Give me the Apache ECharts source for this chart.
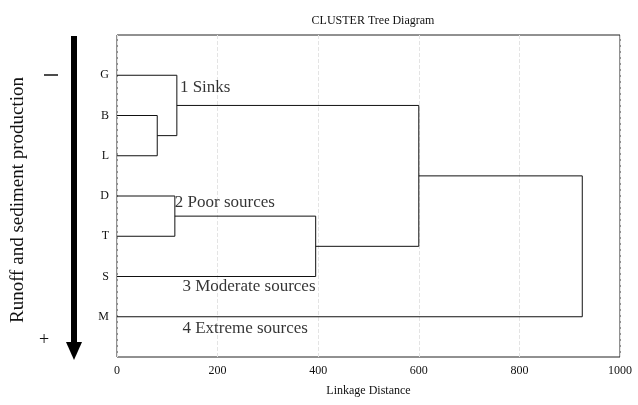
<!DOCTYPE html>
<html><head><meta charset="utf-8">
<script src="https://cdn.jsdelivr.net/npm/echarts@6/dist/echarts.min.js"></script>
<style>html,body{margin:0;background:#fff}#c{width:638px;height:405px}</style>
</head><body><div id="c"></div>
<script>
// leaves, top to bottom
const leaves = ['G', 'B', 'L', 'D', 'T', 'S', 'M'];
// merges: [left pos, right pos, left height, right height, distance]
// pos = leaf index (1-based) or merged midpoint; height = linkage distance the child starts at
const links = [
    [2, 3, 0, 0, 80],        // B + L
    [1, 2.5, 0, 80, 119],    // G + (B,L)
    [4, 5, 0, 0, 115],       // D + T
    [4.5, 6, 115, 0, 395],   // (D,T) + S
    [1.75, 5.25, 119, 395, 600],
    [3.5, 7, 600, 0, 925]    // + M
];
const groupLabels = [
    ['1 Sinks', 125, 1.3],
    ['2 Poor sources', 115, 4.15],
    ['3 Moderate sources', 130, 6.25],
    ['4 Extreme sources', 130, 7.3]
];

let segs = [];
links.forEach((l) => {
    segs.push([l[2], l[0]], [l[4], l[0]], [l[4], l[1]], [l[3], l[1]], [null, null]);
});

const serif = 'Liberation Serif';
const chart = echarts.init(document.getElementById('c'));
chart.setOption({
    animation: false,
    title: {text: 'CLUSTER Tree Diagram', left: 368, top: 10, textAlign: 'center',
        textStyle: {fontFamily: serif, fontSize: 12, fontWeight: 'normal', color: '#111'}},
    grid: {left: 117, right: 18, top: 35, bottom: 48, show: true, borderColor: '#222', borderWidth: 1},
    xAxis: {
        type: 'value', min: 0, max: 1000, interval: 200,
        name: 'Linkage Distance', nameLocation: 'middle', nameGap: 28,
        nameTextStyle: {fontFamily: serif, fontSize: 12, color: '#111'},
        axisLine: {show: false}, axisTick: {show: false},
        axisLabel: {fontFamily: serif, fontSize: 12, color: '#111', formatter: (v) => String(v)},
        splitLine: {show: true, lineStyle: {type: 'dashed', color: '#e4e4e4'}}
    },
    yAxis: {
        type: 'value', min: 0, max: 8, interval: 1, inverse: true,
        axisLine: {show: false}, axisTick: {show: false}, splitLine: {show: false},
        axisLabel: {fontFamily: serif, fontSize: 12, color: '#111', margin: 8,
            formatter: (v) => leaves[v - 1] || ''}
    },
    series: [
        {type: 'line', data: segs, connectNulls: false, symbol: 'none',
            lineStyle: {color: '#111', width: 1}},
        {type: 'scatter', symbolSize: 0,
            data: groupLabels.map((g) => ({value: [g[1], g[2]], name: g[0]})),
            label: {show: true, position: 'right', distance: 0, formatter: (p) => p.name,
                fontFamily: serif, fontSize: 17, color: '#000'}}
    ],
    graphic: [
        {type: 'line', shape: {x1: 74, y1: 36, x2: 74, y2: 345}, style: {stroke: '#000', lineWidth: 6}},
        {type: 'polygon', shape: {points: [[66, 342], [82, 342], [74, 360]]}, style: {fill: '#000'}},
        {type: 'text', x: 18, y: 200, rotation: Math.PI / 2, style: {text: 'Runoff and sediment production',
            fontFamily: serif, fontSize: 19, fill: '#111', align: 'center', verticalAlign: 'middle'}},
        {type: 'line', shape: {x1: 44, y1: 75, x2: 58, y2: 75}, style: {stroke: '#111', lineWidth: 1.5}},
        {type: 'text', x: 44, y: 340, style: {text: '+', fontFamily: serif, fontSize: 18, fill: '#111',
            align: 'center', verticalAlign: 'middle'}}
    ]
});
</script></body></html>
